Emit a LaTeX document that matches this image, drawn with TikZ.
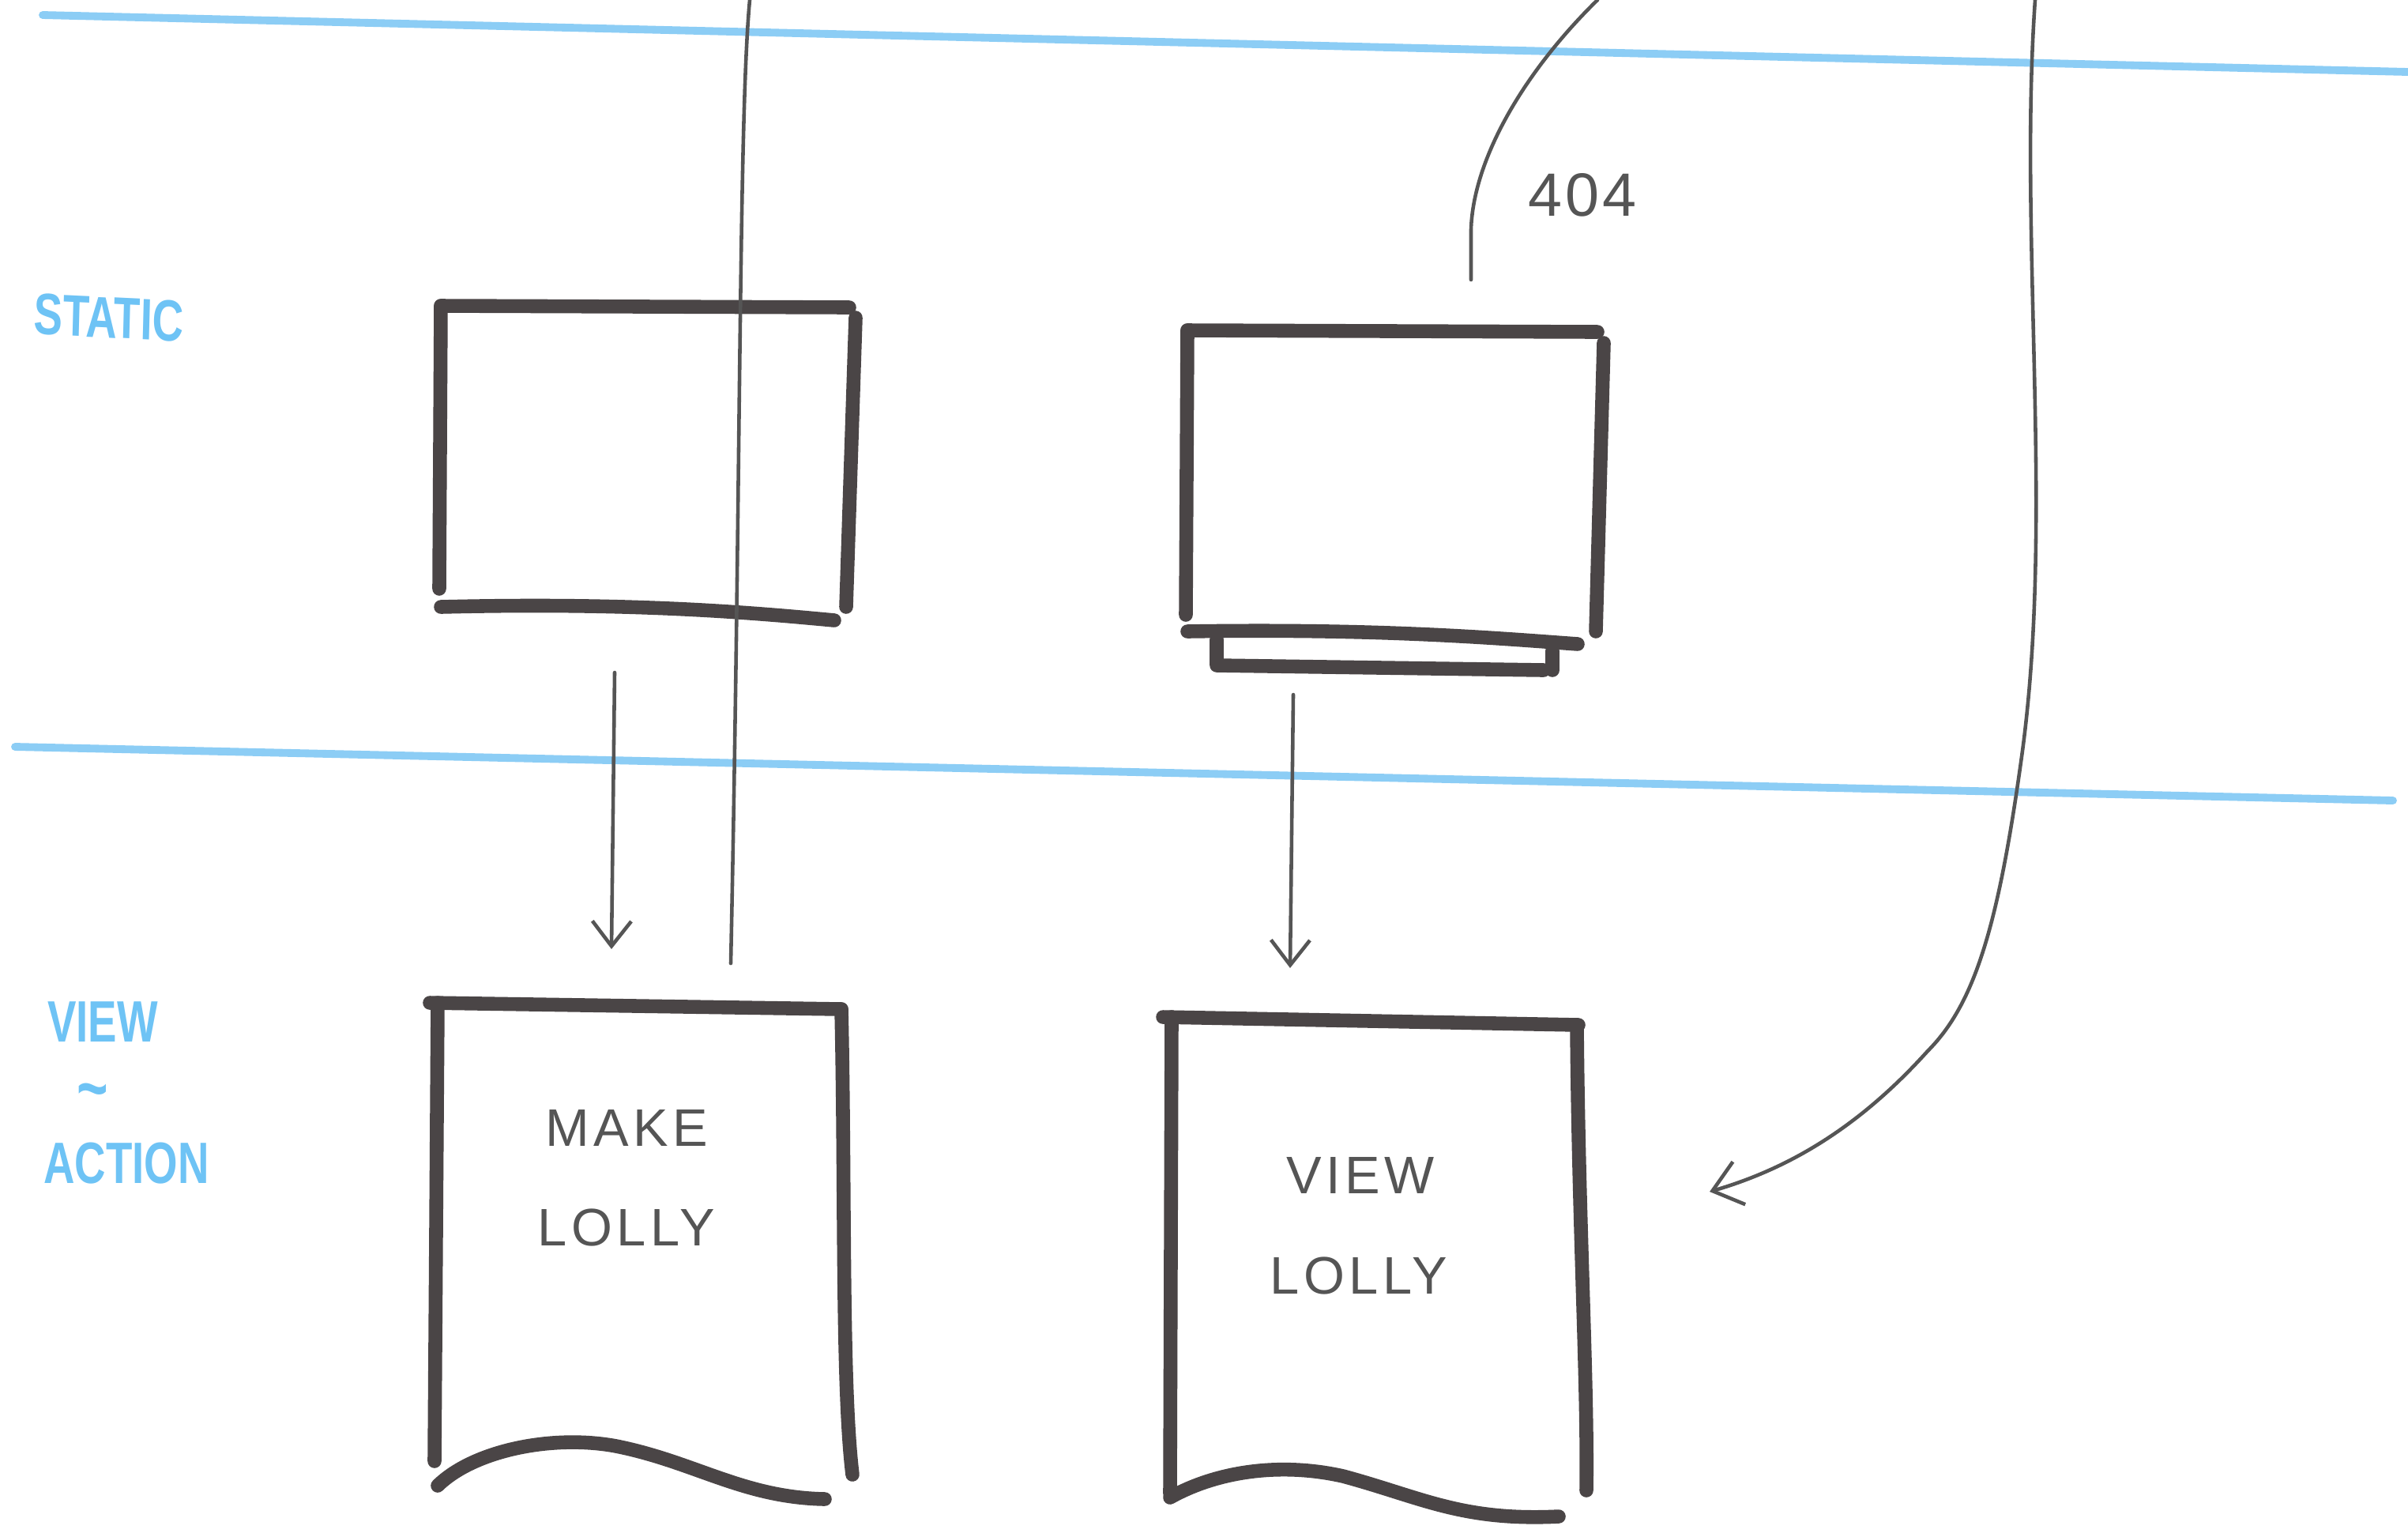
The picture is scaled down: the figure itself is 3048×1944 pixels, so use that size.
\documentclass[tikz,border=0pt]{standalone}
\usepackage{fontspec}
\setmainfont{Liberation Sans}
\newfontfamily\handfont[LetterSpace=8]{Liberation Sans}
\newfontfamily\numfont[LetterSpace=5]{Liberation Sans}
\newfontfamily\bluefont{Liberation Sans}
\usetikzlibrary{arrows.meta}
\definecolor{ink}{RGB}{74,69,70}
\definecolor{pen}{RGB}{85,85,85}
\definecolor{sky}{RGB}{140,205,245}
\definecolor{skytext}{RGB}{110,195,245}
\tikzset{
  boxline/.style={draw=ink,line width=5pt,line cap=round,line join=round},
  thinline/.style={draw=pen,line width=1.3pt,line cap=round},
  lane/.style={draw=sky,line width=2.8pt,line cap=round},
  penarrow/.style={thinline,-{Straight Barb[length=9pt,width=14pt]}},
  handtext/.style={text=pen,font=\handfont\fontsize{19}{23}\selectfont,inner sep=0pt},
  lanetext/.style={text=skytext,font=\bluefont\bfseries\fontsize{21}{25}\selectfont,inner sep=0pt,xscale=0.74}
}
\begin{document}
\begin{tikzpicture}[x=0.01cm,y=-0.01cm]
\useasboundingbox (0,0) rectangle (3048,1944);
\fill[white] (0,0) rectangle (3048,1944);

% swimlane lines
\draw[lane] (54,19) -- (3048,91);
\draw[lane] (19,945) -- (3029,1013);

% lane labels
\node[lanetext,rotate=-2] (static) at (138,402) {STATIC};
\node[lanetext] (view) at (130,1293) {VIEW};
\node[lanetext,font=\bluefont\bfseries\fontsize{26}{26}\selectfont] (tilde) at (117,1390) {\char`\~};
\node[lanetext] (action) at (160,1472) {ACTION};

% box 1 (static, left)
\draw[boxline] (558,387) -- (1075,389);
\draw[boxline] (558,387) -- (556,745);
\draw[boxline] (1083,402) -- (1071,768);
\draw[boxline] (558,768) .. controls (800,762) and (950,775) .. (1056,785);

% box 2 (static, right)
\draw[boxline] (1503,418) -- (2022,420);
\draw[boxline] (1503,418) -- (1501,778);
\draw[boxline] (2030,434) -- (2020,799);
\draw[boxline] (1503,799) .. controls (1750,795) and (1900,808) .. (1997,815);
\draw[boxline] (1540,809) -- (1540,842) -- (1954,848);
\draw[boxline] (1965,824) -- (1965,848);

% box 3 (MAKE LOLLY)
\draw[boxline] (544,1269) -- (1065,1277);
\draw[boxline] (554,1269) -- (550,1849);
\draw[boxline] (1065,1277) .. controls (1070,1500) and (1065,1750) .. (1079,1866);
\draw[boxline] (554,1880) .. controls (600,1835) and (700,1815) .. (780,1830)
  .. controls (880,1850) and (940,1895) .. (1044,1897);
\node[handtext] (make) at (793,1427) {MAKE};
\node[handtext] (lolly1) at (793,1553) {LOLLY};

% box 4 (VIEW LOLLY)
\draw[boxline] (1472,1287) -- (1998,1297);
\draw[boxline] (1483,1287) -- (1481,1890);
\draw[boxline] (1996,1297) .. controls (1998,1550) and (2010,1750) .. (2008,1886);
\draw[boxline] (1481,1895) .. controls (1540,1862) and (1620,1850) .. (1700,1868)
  .. controls (1800,1895) and (1850,1925) .. (1973,1919);
\node[handtext] (viewt) at (1722,1487) {VIEW};
\node[handtext] (lolly2) at (1720,1614) {LOLLY};

% 404 label
\node[text=pen,inner sep=0pt,font=\numfont\fontsize{22}{26}\selectfont] (nf) at (2003,247) {404};

% connectors
\coordinate (a1s) at (778,851);
\coordinate (a1e) at (774,1201);
\draw[penarrow] (a1s) -- (a1e);
\coordinate (a2s) at (1637,879);
\coordinate (a2e) at (1633,1225);
\draw[penarrow] (a2s) -- (a2e);

% long vertical line through box 1
\coordinate (v1s) at (949,0);
\coordinate (v1e) at (925,1219);
\draw[thinline] (v1s) .. controls (935,150) and (938,600) .. (v1e);

% 404 curve
\coordinate (c404s) at (2022,0);
\coordinate (c404e) at (1862,354);
\draw[thinline] (c404s) .. controls (1930,90) and (1865,200) .. (1862,290) -- (c404e);

% long curve to VIEW LOLLY
\coordinate (r1s) at (2576,0);
\coordinate (r1e) at (2164,1508);
\draw[thinline,-{Straight Barb[length=10pt,width=16pt]}] (r1s) .. controls (2555,300) and (2600,650) .. (2560,950)
  .. controls (2530,1170) and (2500,1270) .. (2440,1330)
  .. controls (2350,1430) and (2260,1480) .. (r1e);
\end{tikzpicture}
\end{document}
